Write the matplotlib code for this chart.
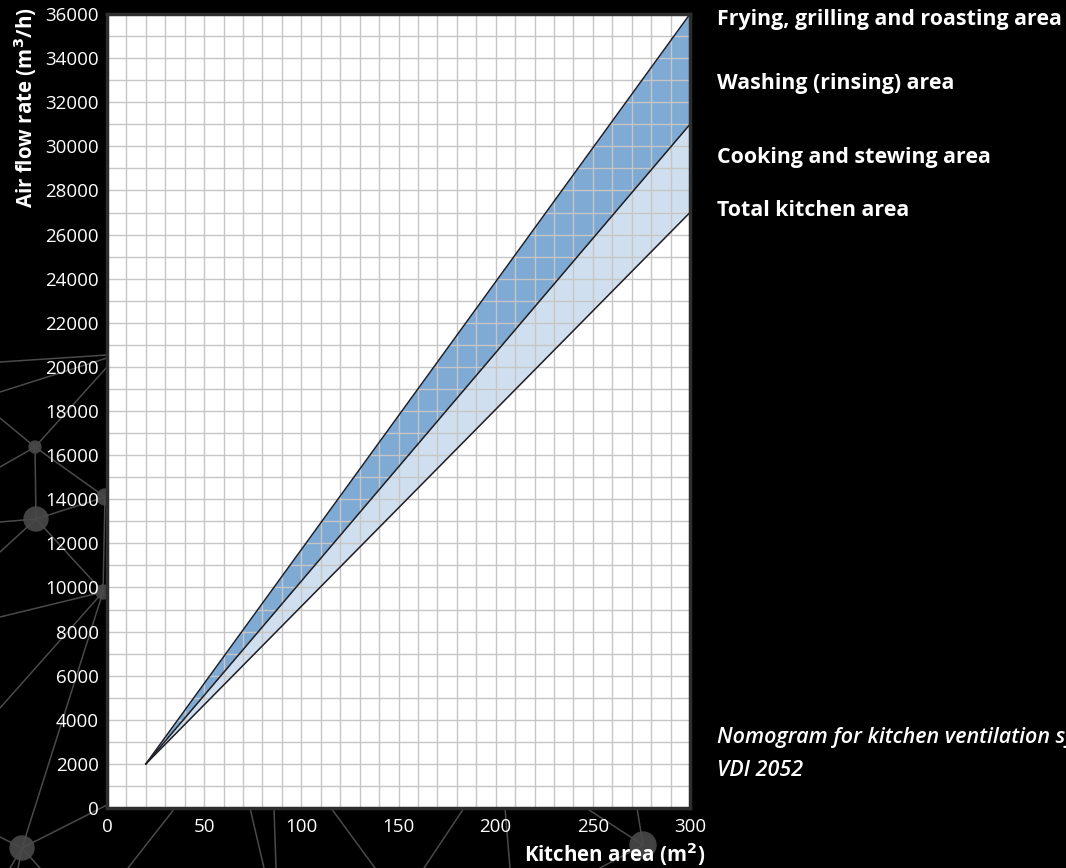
import matplotlib
matplotlib.use("Agg")
import matplotlib.pyplot as plt
import numpy as np

# Kitchen area (m2) at the start and end of the three boundary lines
area = [20, 300]
# Air flow rate (m3/h) along each boundary line
flow_upper = [2000, 36000]
flow_middle = [2000, 31000]
flow_lower = [2000, 27000]

x_ticks = [0, 50, 100, 150, 200, 250, 300]
y_ticks = list(range(0, 36001, 2000))

zone_labels = [
    "Frying, grilling and roasting area",
    "Washing (rinsing) area",
    "Cooking and stewing area",
    "Total kitchen area",
]
caption = ["Nomogram for kitchen ventilation systems according to", "VDI 2052"]

# background decoration (pixel coordinates of the picture)
deco_segments = [
    ((0, 362), (107, 355)), ((0, 392), (107, 358)), ((35, 447), (107, 367)),
    ((0, 418), (35, 447)), ((0, 467), (35, 447)), ((35, 447), (36, 519)),
    ((35, 447), (105, 497)), ((0, 522), (36, 519)), ((36, 519), (105, 497)),
    ((0, 552), (36, 519)), ((36, 519), (103, 592)), ((0, 617), (103, 592)),
    ((105, 497), (103, 592)), ((0, 708), (103, 592)), ((103, 592), (22, 848)),
    ((22, 848), (107, 805)), ((0, 837), (22, 848)), ((22, 848), (10, 868)),
    ((22, 848), (18, 868)), ((22, 848), (40, 868)),
    ((175, 808), (128, 868)), ((250, 808), (264, 868)), ((274, 808), (276, 868)),
    ((331, 808), (375, 868)), ((464, 808), (424, 868)), ((505, 808), (510, 868)),
    ((586, 808), (643, 845)), ((637, 808), (643, 845)), ((643, 845), (600, 868)),
]
deco_nodes = [((35, 447), 6), ((36, 519), 12), ((105, 497), 8), ((103, 592), 7),
              ((22, 848), 12), ((643, 845), 13)]

FONT = ["Open Sans", "DejaVu Sans"]
plt.rcParams["font.family"] = FONT

W, H = 1066, 868
fig = plt.figure(figsize=(W / 100, H / 100), dpi=100, facecolor="black")

bg = fig.add_axes([0, 0, 1, 1], zorder=-1)
bg.set_xlim(0, W)
bg.set_ylim(H, 0)
bg.axis("off")
for (x0, y0), (x1, y1) in deco_segments:
    bg.plot([x0, x1], [y0, y1], color="#4a4a4a", lw=1.1, solid_capstyle="round")
for (cx, cy), r in deco_nodes:
    bg.add_patch(plt.Circle((cx, cy), r, color="#424242"))

ax = fig.add_axes([107 / W, (H - 808) / H, 583 / W, 794 / H])
ax.set_facecolor("white")
ax.set_xlim(0, 300)
ax.set_ylim(0, 36000)

ax.fill_between(area, flow_middle, flow_upper, color="#7eaad4", zorder=1, lw=0)
ax.fill_between(area, flow_lower, flow_middle, color="#cfdfef", zorder=1, lw=0)

ax.set_xticks(np.arange(0, 301, 10), minor=True)
ax.set_yticks(np.arange(0, 36001, 1000), minor=True)
ax.grid(which="both", color="#c6c6c6", lw=1.0, zorder=2)
ax.set_axisbelow(False)

for flow in (flow_upper, flow_middle, flow_lower):
    ax.plot(area, flow, color="#1e1e24", lw=1.1, zorder=3)

ax.set_xticks(x_ticks)
ax.set_yticks(y_ticks)
ax.tick_params(which="both", length=0, colors="white", labelsize=13.5)
ax.tick_params(axis="x", pad=7)
ax.tick_params(axis="y", pad=6)
for spine in ax.spines.values():
    spine.set_color("#2e2e2e")
    spine.set_linewidth(2.5)
    spine.set_zorder(4)

fig.text(25 / W, 1 - 108 / H, "Air flow rate (m$^\\mathbf{3}$/h)", rotation=90,
         ha="center", va="center", color="white", fontsize=14.8, fontweight="bold")
fig.text(705 / W, 1 - 854 / H, "Kitchen area (m$^\\mathbf{2}$)",
         ha="right", va="center", color="white", fontsize=14.8, fontweight="bold")

label_y = [20, 83, 158, 210]
for text, yp in zip(zone_labels, label_y):
    fig.text(717 / W, 1 - yp / H, text, ha="left", va="center", color="white",
             fontsize=15.4, fontweight="bold")

for text, yp in zip(caption, [738, 770]):
    fig.text(717 / W, 1 - yp / H, text, ha="left", va="center", color="white",
             fontsize=15.5, fontstyle="italic", fontweight="semibold")

fig.savefig("out.png", dpi=100, facecolor="black")
